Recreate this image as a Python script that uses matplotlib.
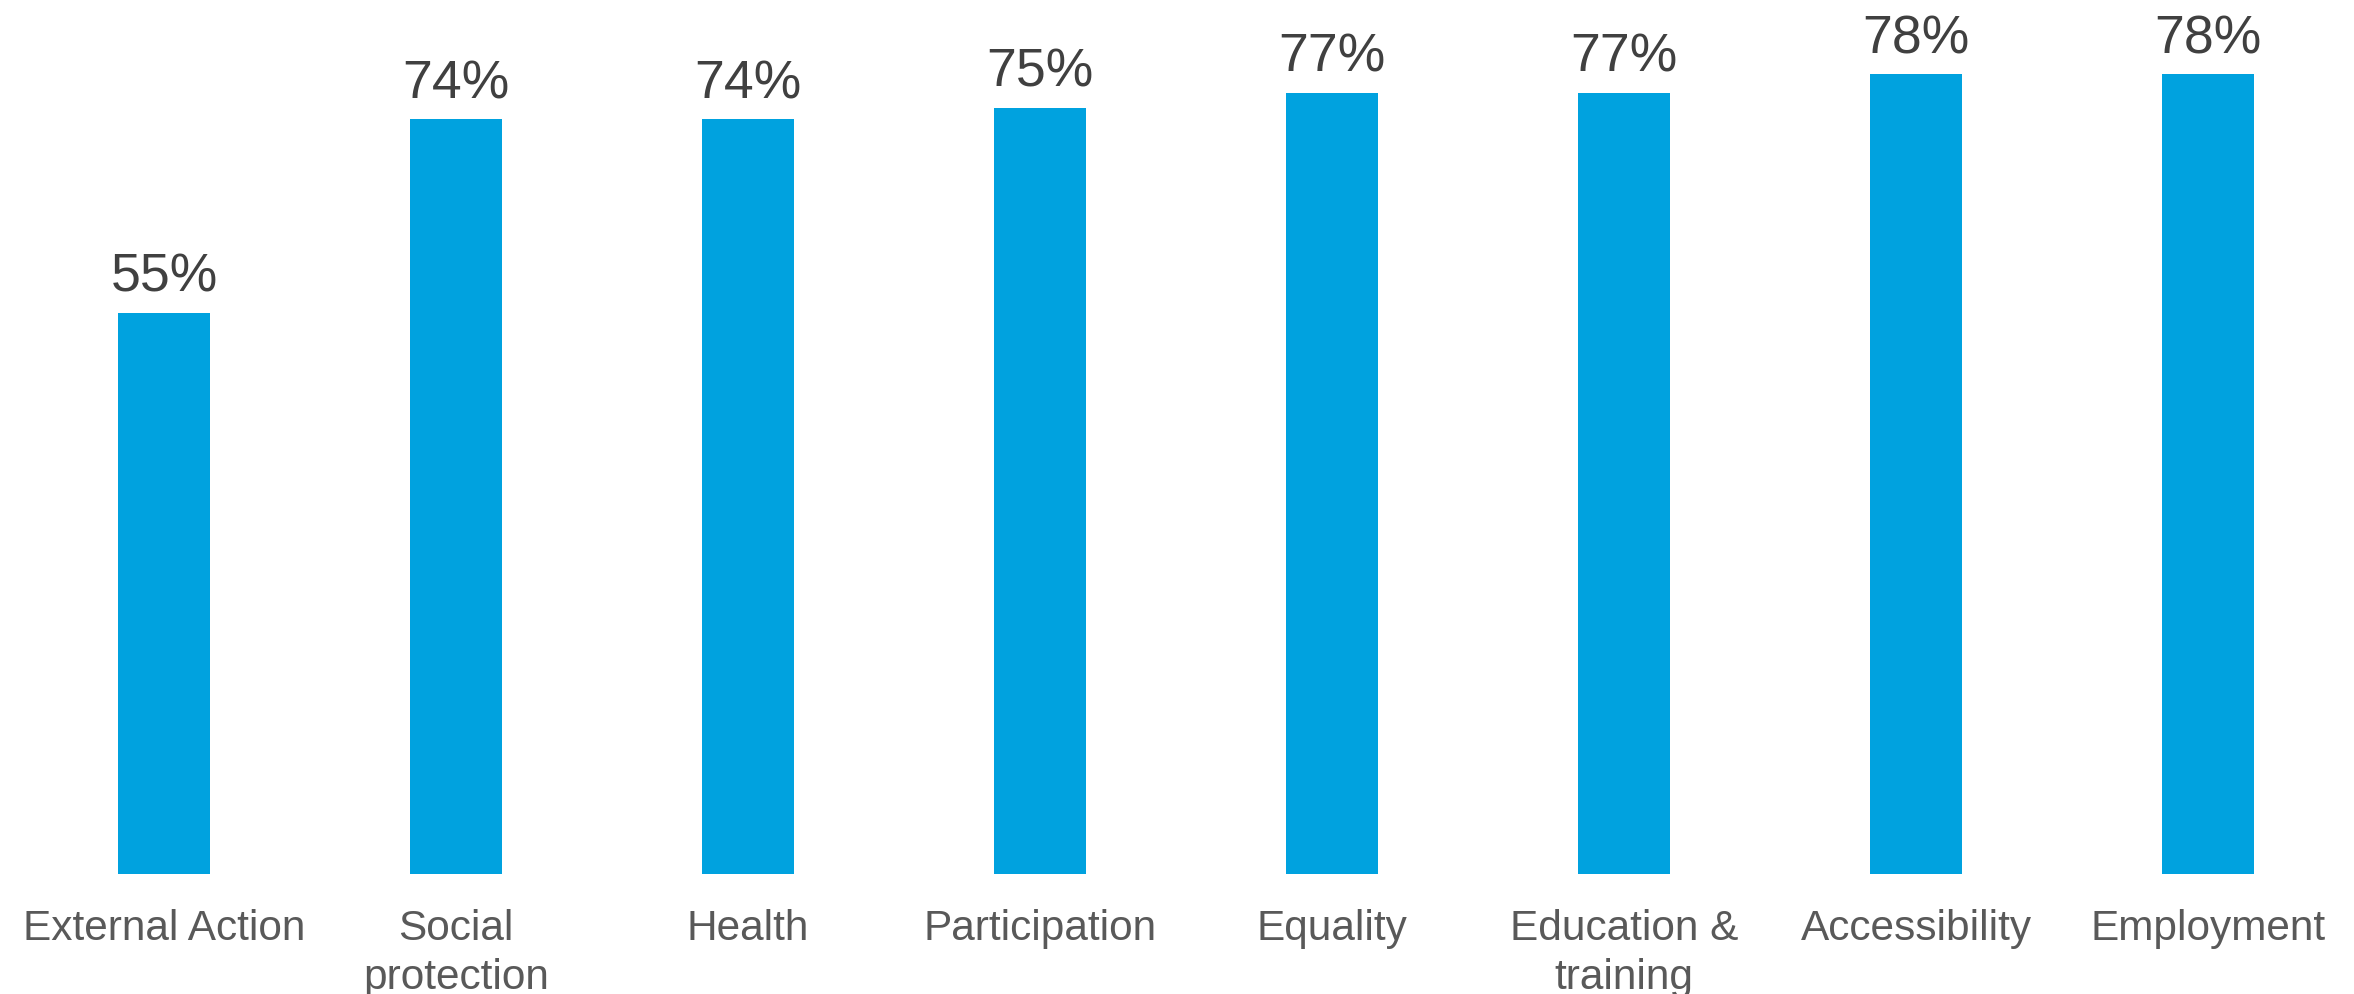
import matplotlib
matplotlib.use("Agg")
import matplotlib.pyplot as plt

categories = ["External Action", "Social\nprotection", "Health", "Participation",
              "Equality", "Education &\ntraining", "Accessibility", "Employment"]
values = [55.0, 74.0, 74.0, 75.1, 76.6, 76.6, 78.4, 78.4]
value_labels = ["55%", "74%", "74%", "75%", "77%", "77%", "78%", "78%"]

plt.rcParams['font.family'] = ['Liberation Sans', 'DejaVu Sans']

W, H = 2354, 995
fig = plt.figure(figsize=(W / 100, H / 100), dpi=100)
ax = fig.add_axes([18 / W, 120.5 / H, 2336 / W, (H - 120.5) / H])

x = list(range(len(categories)))
ax.bar(x, values, width=0.313, color="#00A2DF", zorder=2)
ax.set_xlim(-0.5, len(categories) - 0.5)
ax.set_ylim(0, 85.8)

for xi, v, lab in zip(x, values, value_labels):
    ax.annotate(lab, (xi, v), xytext=(0, 16), textcoords="offset points",
                ha="center", va="baseline", fontsize=38.5, color="#404040")

ax.set_xticks(x)
ax.set_xticklabels(categories, fontsize=30.5, color="#595959", linespacing=1.28)
ax.tick_params(axis="x", length=0, pad=25)
ax.set_yticks([])
for s in ax.spines.values():
    s.set_visible(False)

fig.savefig("out.png", dpi=100)
